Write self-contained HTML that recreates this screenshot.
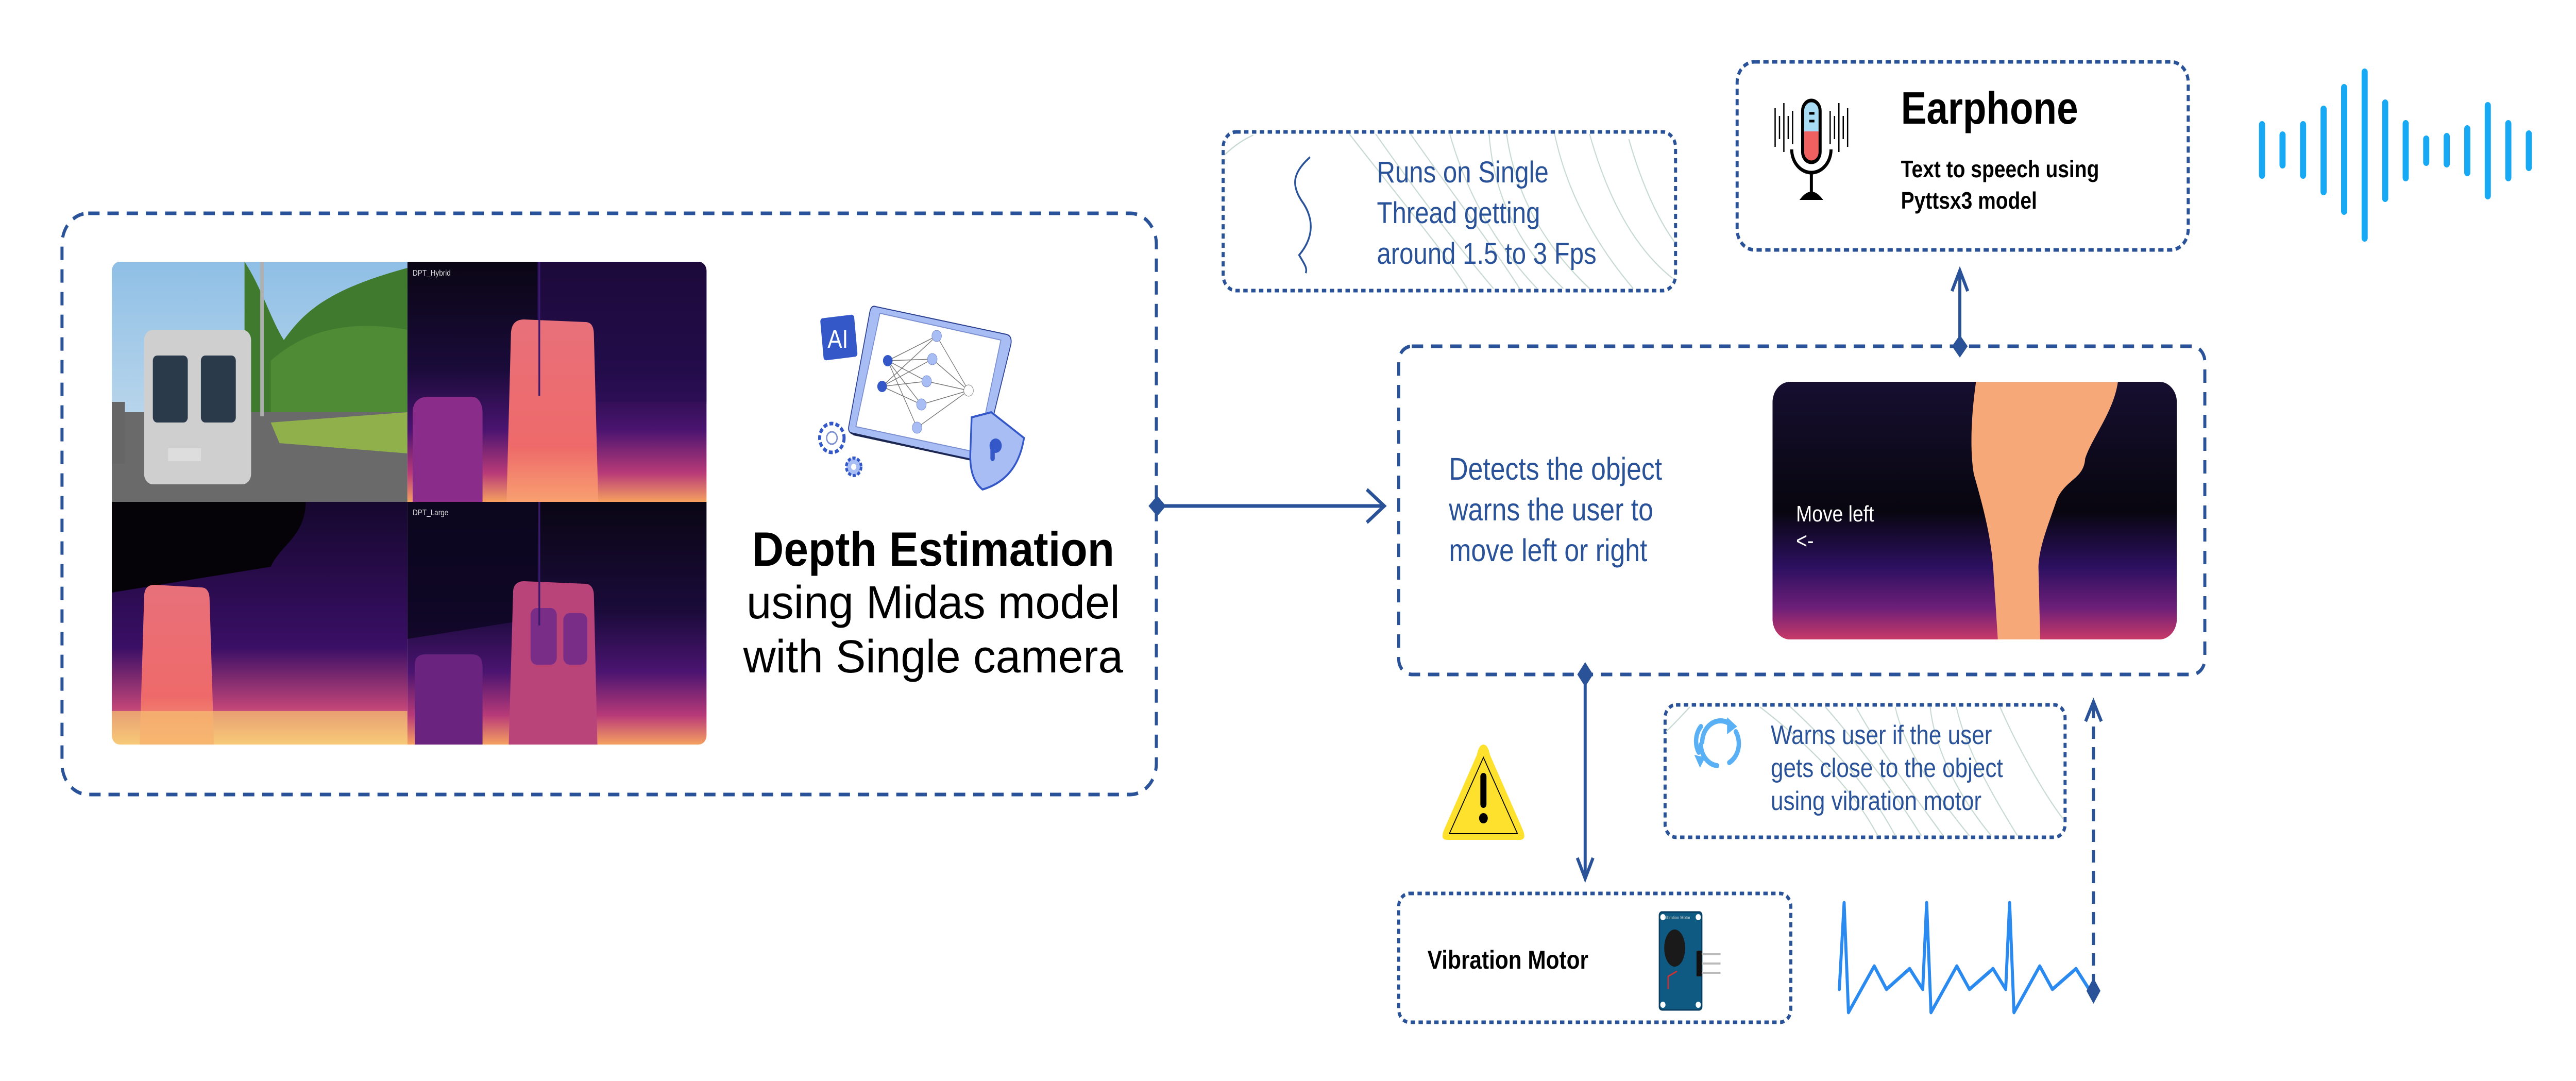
<!DOCTYPE html>
<html><head><meta charset="utf-8"><style>
html,body{margin:0;padding:0;background:#fff;width:100%;height:100%;overflow:hidden;}
svg{display:block;width:100vw;height:100vh;}
text{font-family:"Liberation Sans",sans-serif;}
</style></head><body>
<svg viewBox="0 0 5899 2098" preserveAspectRatio="none" xmlns="http://www.w3.org/2000/svg">
<defs>
 <linearGradient id="dm" x1="0" y1="0" x2="0" y2="1">
  <stop offset="0" stop-color="#0a0614"/><stop offset="0.45" stop-color="#1a0b3a"/>
  <stop offset="0.7" stop-color="#4a1470"/><stop offset="0.88" stop-color="#b83a78"/><stop offset="1" stop-color="#f5a060"/>
 </linearGradient>
 <linearGradient id="dm2" x1="0" y1="0" x2="0" y2="1">
  <stop offset="0" stop-color="#15082e"/><stop offset="0.6" stop-color="#3a0f66"/>
  <stop offset="0.85" stop-color="#c04478"/><stop offset="1" stop-color="#fbe08a"/>
 </linearGradient>
 <linearGradient id="mv" x1="0" y1="0" x2="0" y2="1">
  <stop offset="0" stop-color="#160f30"/><stop offset="0.5" stop-color="#08060f"/>
  <stop offset="0.72" stop-color="#2c1060"/><stop offset="0.88" stop-color="#6e1f78"/><stop offset="1" stop-color="#c83a68"/>
 </linearGradient>
 <linearGradient id="veh" x1="0" y1="0" x2="0" y2="1">
  <stop offset="0" stop-color="#e8707a"/><stop offset="0.7" stop-color="#ee6a6a"/><stop offset="1" stop-color="#f8a070"/>
 </linearGradient>
 <linearGradient id="sky" x1="0" y1="0" x2="0" y2="1">
  <stop offset="0" stop-color="#8fbfe6"/><stop offset="1" stop-color="#cfe2ee"/>
 </linearGradient>
 <clipPath id="gridclip"><rect x="256" y="508" width="1362" height="937" rx="18"/></clipPath>
 <clipPath id="mvclip"><rect x="4059" y="741" width="926" height="500" rx="40"/></clipPath>
</defs>

<rect x="142" y="414" width="2506" height="1128" rx="60" fill="none" stroke="#2a5298" stroke-width="7" stroke-dasharray="26 18"/>

<g clip-path="url(#gridclip)">
 <rect x="256" y="508" width="677" height="466" fill="url(#sky)"/>
 <path d="M560 508 C600 560 620 620 650 660 C700 600 760 560 933 520 L933 850 L560 850 Z" fill="#3f7a2e"/>
 <path d="M620 700 C700 640 800 620 933 640 L933 820 L620 820 Z" fill="#4f8a34"/>
 <rect x="256" y="800" width="677" height="174" fill="#6a6a6a"/>
 <path d="M620 820 L933 800 L933 880 L640 860 Z" fill="#8fb04a"/>
 <rect x="330" y="640" width="245" height="300" rx="20" fill="#cfcfcf"/>
 <rect x="350" y="690" width="80" height="130" rx="10" fill="#2a3a4a"/>
 <rect x="460" y="690" width="80" height="130" rx="10" fill="#2a3a4a"/>
 <rect x="385" y="870" width="75" height="25" fill="#ddd"/>
 <rect x="256" y="780" width="30" height="120" fill="#666"/>
 <rect x="596" y="508" width="8" height="300" fill="#b0b0b0"/>
 <rect x="933" y="508" width="685" height="466" fill="url(#dm)"/>
 <path d="M1230 508 L1618 508 L1618 780 L1230 780 Z" fill="#2a0d55" opacity="0.6"/>
 <path d="M1170 650 C1170 630 1180 620 1200 620 L1340 625 C1355 625 1360 635 1360 650 L1370 974 L1160 974 Z" fill="url(#veh)"/>
 <path d="M945 800 C945 780 960 770 980 770 L1080 770 C1100 770 1105 790 1105 800 L1105 974 L945 974 Z" fill="#8a2c8a"/>
 <rect x="1233" y="508" width="4" height="260" fill="#3a1a70"/>
 <text x="945" y="535" font-size="16" fill="#ddd">DPT_Hybrid</text>
 <rect x="256" y="974" width="677" height="471" fill="url(#dm2)"/>
 <path d="M256 974 L700 974 C700 1040 640 1060 620 1100 L256 1150 Z" fill="#050308"/>
 <path d="M330 1160 C330 1140 340 1135 355 1135 L460 1140 C475 1140 480 1150 480 1165 L490 1445 L320 1445 Z" fill="url(#veh)"/>
 <rect x="256" y="1380" width="677" height="65" fill="#f7c070" opacity="0.7"/>
 <rect x="933" y="974" width="685" height="471" fill="url(#dm)"/>
 <path d="M933 974 L1230 974 L1230 1200 L933 1240 Z" fill="#0c0620" opacity="0.8"/>
 <path d="M1175 1150 C1175 1135 1185 1128 1200 1128 L1340 1133 C1355 1133 1360 1145 1360 1155 L1368 1445 L1165 1445 Z" fill="#b8447a"/>
 <rect x="1215" y="1180" width="60" height="110" rx="14" fill="#7a2d86"/>
 <rect x="1290" y="1190" width="55" height="100" rx="14" fill="#7a2d86"/>
 <path d="M950 1290 C950 1275 960 1270 975 1270 L1080 1270 C1100 1270 1105 1280 1105 1295 L1105 1445 L950 1445 Z" fill="#6a2480"/>
 <rect x="1233" y="974" width="4" height="240" fill="#3a1a70"/>
 <text x="945" y="1000" font-size="16" fill="#ddd">DPT_Large</text>
</g>

<g>
 <path d="M2005 595 L2305 649 Q2318 652 2315 668 L2254 880 Q2250 895 2235 893 L1955 843 Q1940 840 1944 826 L1992 605 Q1995 592 2005 595 Z" fill="#a9bdf5" stroke="#2a3f90" stroke-width="2"/>
 <path d="M2015 608 L2292 660 L2238 878 L1960 828 Z" fill="#fff" stroke="#7a8ed0" stroke-width="2"/>
 <path d="M1944 838 L2235 893 L2245 898 L1955 845 Z" fill="#1a2550"/>
 <g stroke="#777" stroke-width="1.5">
  <line x1="2033" y1="700" x2="2145" y2="652"/><line x1="2033" y1="700" x2="2135" y2="697"/><line x1="2033" y1="700" x2="2122" y2="740"/><line x1="2033" y1="700" x2="2110" y2="785"/><line x1="2033" y1="700" x2="2100" y2="830"/>
  <line x1="2020" y1="750" x2="2145" y2="652"/><line x1="2020" y1="750" x2="2135" y2="697"/><line x1="2020" y1="750" x2="2122" y2="740"/><line x1="2020" y1="750" x2="2110" y2="785"/>
  <line x1="2145" y1="652" x2="2218" y2="758"/><line x1="2135" y1="697" x2="2218" y2="758"/><line x1="2122" y1="740" x2="2218" y2="758"/><line x1="2110" y1="785" x2="2218" y2="758"/><line x1="2100" y1="830" x2="2218" y2="758"/>
 </g>
 <circle cx="2033" cy="700" r="11" fill="#3558c8"/><circle cx="2020" cy="750" r="11" fill="#3558c8"/>
 <circle cx="2145" cy="652" r="11" fill="#a9bdf5" stroke="#7a8ed0"/><circle cx="2135" cy="697" r="11" fill="#a9bdf5" stroke="#7a8ed0"/><circle cx="2122" cy="740" r="11" fill="#a9bdf5" stroke="#7a8ed0"/><circle cx="2110" cy="785" r="11" fill="#a9bdf5" stroke="#7a8ed0"/><circle cx="2100" cy="830" r="11" fill="#a9bdf5" stroke="#7a8ed0"/>
 <circle cx="2218" cy="758" r="11" fill="#fff" stroke="#777"/>
 <rect x="1880" y="612" width="82" height="86" rx="8" fill="#3558c8" stroke="#fff" stroke-width="4" transform="rotate(-6 1921 655)"/>
 <text x="1895" y="675" font-size="50" fill="#fff">AI</text>
 <path d="M2225 810 L2270 800 L2345 850 Q2330 930 2250 950 Q2220 930 2222 880 Z" fill="#a9bdf5" stroke="#3558c8" stroke-width="4"/>
 <circle cx="2280" cy="865" r="14" fill="#3558c8"/><rect x="2268" y="865" width="10" height="30" rx="5" fill="#3558c8"/>
 <circle cx="1905" cy="850" r="28" fill="#fff" stroke="#3558c8" stroke-width="7" stroke-dasharray="9 5"/>
 <circle cx="1905" cy="850" r="12" fill="#fff" stroke="#7a8ed0" stroke-width="3"/>
 <circle cx="1955" cy="906" r="17" fill="#a9bdf5" stroke="#3558c8" stroke-width="6" stroke-dasharray="7 4"/>
 <circle cx="1955" cy="906" r="6" fill="#fff"/>
</g>

<text x="2137" y="1098" font-size="94" font-weight="bold" text-anchor="middle" fill="#000" textLength="830" lengthAdjust="spacingAndGlyphs">Depth Estimation</text>
<text x="2137" y="1200" font-size="90" text-anchor="middle" fill="#000" textLength="855" lengthAdjust="spacingAndGlyphs">using Midas model</text>
<text x="2137" y="1305" font-size="90" text-anchor="middle" fill="#000" textLength="870" lengthAdjust="spacingAndGlyphs">with Single camera</text>

<line x1="2648" y1="982" x2="3165" y2="982" stroke="#2a5298" stroke-width="7"/>
<path d="M2630 982 L2650 962 L2670 982 L2650 1002 Z" fill="#2a5298"/>
<path d="M3130 950 L3170 982 L3130 1014" fill="none" stroke="#2a5298" stroke-width="7"/>

<rect x="3203" y="672" width="1846" height="637" rx="30" fill="none" stroke="#2a5298" stroke-width="7" stroke-dasharray="26 18"/>
<text font-size="61" fill="#2a5298"><tspan x="3318" y="931">Detects the object</tspan><tspan x="3318" y="1010">warns the user to</tspan><tspan x="3318" y="1089">move left or right</tspan></text>
<g clip-path="url(#mvclip)">
 <rect x="4059" y="741" width="926" height="500" fill="url(#mv)"/>
 <path d="M4525 741 L4850 741 C4840 800 4790 850 4775 890 C4772 930 4730 930 4710 970 C4690 1020 4670 1060 4668 1100 L4672 1241 L4575 1241 L4565 1110 C4560 1040 4540 980 4520 920 C4510 870 4515 800 4525 741 Z" fill="#f7a878"/>
 <text x="4113" y="1012" font-size="44" fill="#fff" font-family="Liberation Mono, monospace">Move left</text>
 <text x="4113" y="1064" font-size="44" fill="#fff" font-family="Liberation Mono, monospace">&lt;-</text>
</g>

<rect x="2801" y="256" width="1036" height="308" rx="30" fill="none" stroke="#2a5298" stroke-width="7" stroke-dasharray="10 8"/>
<g fill="none" stroke="#c8dad2" stroke-width="2.5">
 <path d="M3090 260 C3200 380 3300 480 3360 560"/><path d="M3150 260 C3250 380 3340 480 3420 560"/>
 <path d="M3230 260 C3330 380 3420 480 3480 560"/><path d="M3320 260 C3360 380 3430 480 3520 560"/>
 <path d="M3410 260 C3420 380 3480 480 3580 560"/><path d="M3450 260 C3470 380 3540 480 3640 560"/>
 <path d="M3560 260 C3590 380 3660 480 3740 560"/><path d="M3640 260 C3680 380 3740 480 3830 540"/>
 <path d="M3730 270 C3760 360 3800 430 3835 470"/><path d="M2805 300 C2830 280 2850 270 2870 262"/>
</g>
<path d="M3000 305 C2960 335 2955 360 2985 395 C3015 435 3000 470 2975 495 C2985 510 2995 520 2990 530" fill="none" stroke="#2a5298" stroke-width="4"/>
<text font-size="58" fill="#2a5298"><tspan x="3153" y="354">Runs on Single</tspan><tspan x="3153" y="433">Thread getting</tspan><tspan x="3153" y="512">around 1.5 to 3 Fps</tspan></text>

<rect x="3978" y="120" width="1033" height="365" rx="40" fill="none" stroke="#2a5298" stroke-width="7" stroke-dasharray="12 8"/>
<g>
 <rect x="4128" y="195" width="40" height="120" rx="20" fill="#a8dcf5"/>
 <path d="M4128 255 L4168 255 L4168 295 A20 20 0 0 1 4128 295 Z" fill="#f06060"/>
 <rect x="4128" y="195" width="40" height="120" rx="20" fill="none" stroke="#000" stroke-width="7"/>
 <path d="M4103 290 A45 45 0 0 0 4193 290" fill="none" stroke="#000" stroke-width="7"/>
 <line x1="4148" y1="335" x2="4148" y2="375" stroke="#000" stroke-width="7"/>
 <path d="M4128 385 Q4148 365 4168 385 Z" fill="#000" stroke="#000" stroke-width="6"/>
 <line x1="4143" y1="220" x2="4155" y2="220" stroke="#000" stroke-width="5"/><line x1="4143" y1="235" x2="4155" y2="235" stroke="#000" stroke-width="5"/>
 <g stroke="#000" stroke-width="3">
  <line x1="4065" y1="210" x2="4065" y2="285"/><line x1="4075" y1="225" x2="4075" y2="270"/><line x1="4085" y1="200" x2="4085" y2="295"/><line x1="4095" y1="225" x2="4095" y2="270"/><line x1="4105" y1="215" x2="4105" y2="280"/>
  <line x1="4191" y1="215" x2="4191" y2="280"/><line x1="4201" y1="225" x2="4201" y2="270"/><line x1="4211" y1="200" x2="4211" y2="295"/><line x1="4221" y1="225" x2="4221" y2="270"/><line x1="4231" y1="210" x2="4231" y2="285"/>
 </g>
</g>
<text x="4353" y="240" font-size="88" font-weight="bold" fill="#000">Earphone</text>
<text x="4353" y="344" font-size="46" font-weight="bold" fill="#000">Text to speech using</text>
<text x="4353" y="405" font-size="46" font-weight="bold" fill="#000">Pyttsx3 model</text>

<line x1="4488" y1="530" x2="4488" y2="668" stroke="#2a5298" stroke-width="7"/>
<path d="M4470 565 L4488 525 L4506 565" fill="none" stroke="#2a5298" stroke-width="7"/>
<path d="M4488 650 L4506 672 L4488 694 L4470 672 Z" fill="#2a5298"/>

<g stroke="#18a9f5" stroke-width="14" stroke-linecap="round">
 <line x1="5180" y1="242" x2="5180" y2="340"/><line x1="5227" y1="262" x2="5227" y2="320"/><line x1="5274" y1="242" x2="5274" y2="340"/>
 <line x1="5321" y1="212" x2="5321" y2="372"/><line x1="5368" y1="170" x2="5368" y2="410"/><line x1="5415" y1="140" x2="5415" y2="462"/>
 <line x1="5462" y1="200" x2="5462" y2="385"/><line x1="5509" y1="240" x2="5509" y2="345"/><line x1="5556" y1="270" x2="5556" y2="315"/>
 <line x1="5603" y1="265" x2="5603" y2="318"/><line x1="5650" y1="250" x2="5650" y2="335"/>
 <line x1="5697" y1="205" x2="5697" y2="380"/><line x1="5744" y1="240" x2="5744" y2="345"/><line x1="5791" y1="260" x2="5791" y2="325"/>
</g>

<line x1="3630" y1="1309" x2="3630" y2="1700" stroke="#2a5298" stroke-width="7"/>
<path d="M3630 1285 L3648 1309 L3630 1333 L3612 1309 Z" fill="#2a5298"/>
<path d="M3612 1665 L3630 1705 L3648 1665" fill="none" stroke="#2a5298" stroke-width="7"/>

<path d="M3397 1445 Q3407 1445 3412 1465 L3487 1610 Q3497 1630 3480 1630 L3314 1630 Q3297 1630 3307 1610 L3382 1465 Q3387 1445 3397 1445 Z" fill="#fde12d"/>
<path d="M3397 1470 L3475 1618 L3319 1618 Z" fill="none" stroke="#000" stroke-width="2"/>
<rect x="3390" y="1500" width="14" height="68" rx="7" fill="#000"/>
<circle cx="3397" cy="1588" r="10" fill="#000"/>

<rect x="3813" y="1368" width="916" height="257" rx="25" fill="none" stroke="#2a5298" stroke-width="7" stroke-dasharray="10 8"/>
<g fill="none" stroke="#c8dad2" stroke-width="2.5">
 <path d="M4030 1372 C4150 1450 4250 1540 4300 1622"/><path d="M4100 1372 C4200 1450 4290 1540 4340 1622"/>
 <path d="M4180 1372 C4260 1450 4340 1540 4400 1622"/><path d="M4250 1372 C4300 1450 4380 1540 4450 1622"/>
 <path d="M4340 1372 C4360 1450 4430 1540 4510 1622"/><path d="M4420 1372 C4430 1450 4480 1540 4560 1622"/>
 <path d="M4480 1372 C4500 1450 4560 1540 4620 1622"/><path d="M4580 1372 C4620 1450 4680 1540 4725 1590"/>
 <path d="M3815 1420 C3840 1400 3855 1385 3870 1372"/>
</g>
<g fill="none" stroke="#5ab0f5" stroke-width="10" stroke-linecap="round">
 <path d="M3898 1440 A42 42 0 0 1 3958 1403"/><path d="M3975 1420 A42 42 0 0 1 3960 1480"/>
 <path d="M3932 1486 A42 42 0 0 1 3895 1445"/><path d="M3890 1460 A42 42 0 0 1 3895 1410"/>
</g>
<path d="M3955 1392 L3978 1410 L3955 1425 Z" fill="#5ab0f5"/>
<path d="M3893 1490 L3880 1465 L3905 1470 Z" fill="#5ab0f5"/>
<text font-size="52" fill="#2a5298"><tspan x="4055" y="1444">Warns user if the user</tspan><tspan x="4055" y="1508">gets close to the object</tspan><tspan x="4055" y="1572">using vibration motor</tspan></text>

<rect x="3203" y="1734" width="898" height="250" rx="25" fill="none" stroke="#2a5298" stroke-width="7" stroke-dasharray="10 8"/>
<text x="3269" y="1880" font-size="50" font-weight="bold" fill="#000">Vibration Motor</text>
<g>
 <rect x="3800" y="1770" width="97" height="190" rx="6" fill="#0e5a82" stroke="#0a3e60" stroke-width="3"/>
 <circle cx="3808" cy="1780" r="6" fill="#fff"/><circle cx="3889" cy="1780" r="6" fill="#fff"/>
 <circle cx="3808" cy="1950" r="6" fill="#fff"/><circle cx="3889" cy="1950" r="6" fill="#fff"/>
 <ellipse cx="3835" cy="1840" rx="24" ry="36" fill="#1a1a1a"/>
 <rect x="3885" y="1845" width="12" height="50" fill="#111"/>
 <g stroke="#bbb" stroke-width="4"><line x1="3897" y1="1852" x2="3940" y2="1852"/><line x1="3897" y1="1870" x2="3940" y2="1870"/><line x1="3897" y1="1888" x2="3940" y2="1888"/></g>
 <path d="M3820 1920 L3820 1895 L3840 1885" fill="none" stroke="#d03030" stroke-width="3"/>
 <text x="3810" y="1784" font-size="9" fill="#ddd">Vibration Motor</text>
</g>

<polyline points="4212,1920 4223,1752 4233,1965 4292,1875 4320,1920 4373,1880 4403,1920 4412,1752 4422,1965 4481,1875 4510,1920 4564,1880 4593,1920 4602,1752 4612,1965 4671,1875 4700,1920 4754,1880 4784,1920" fill="none" stroke="#2a8af0" stroke-width="7" stroke-linejoin="round" stroke-linecap="round"/>

<line x1="4794" y1="1370" x2="4794" y2="1905" stroke="#2a5298" stroke-width="7" stroke-dasharray="24 16"/>
<path d="M4776 1400 L4794 1362 L4812 1400" fill="none" stroke="#2a5298" stroke-width="7"/>
<path d="M4794 1898 L4810 1923 L4794 1948 L4778 1923 Z" fill="#2a5298"/>
</svg>
</body></html>
